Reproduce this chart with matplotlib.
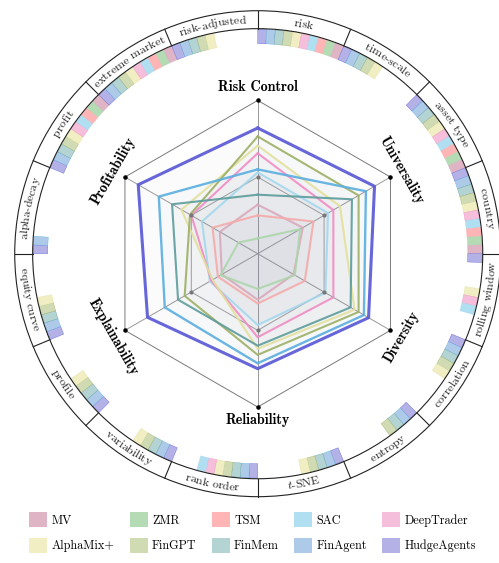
import numpy as np
import matplotlib
matplotlib.use('Agg')
import matplotlib.pyplot as plt
from matplotlib.patches import Wedge, Circle, Patch
from matplotlib.font_manager import FontProperties, findfont
from matplotlib.ft2font import FT2Font

plt.rcParams['font.family'] = ['cmr10', 'DejaVu Serif']
plt.rcParams['mathtext.fontset'] = 'cm'
plt.rcParams['axes.unicode_minus'] = False

# ========== data ==========
methods = ['HudgeAgents', 'FinAgent', 'FinMem', 'FinGPT', 'AlphaMix+',
           'DeepTrader', 'SAC', 'TSM', 'ZMR', 'MV']
line_colors = ['#5656d6', '#5aaee0', '#5c9c9c', '#9db065', '#e3e09c',
               '#f08cc4', '#a3d8ee', '#f5aaaa', '#acd6ac', '#d9a9bb']
light_colors = ['#b3b1e6', '#aecae9', '#b4d3d3', '#d0dbb4', '#f1eec4',
                '#f5bedb', '#b1dff2', '#ffb5b5', '#b4dbb4', '#dfb4c4']

axis_names = ['Risk Control', 'Universality', 'Diversity',
              'Reliability', 'Explainability', 'Profitability']
axis_angles = [90, 30, -30, -90, -150, 150]

# scores per method (same order as axis_names)
hudgeagents = [0.82, 0.88, 0.835, 0.75, 0.83, 0.90]
finagent    = [0.55, 0.815, 0.80, 0.715, 0.70, 0.745]
finmem      = [0.385, 0.71, 0.70, 0.60, 0.60, 0.645]
fingpt      = [0.765, 0.76, 0.76, 0.66, 0.55, 0.51]
alphamix    = [0.705, 0.62, 0.73, 0.62, 0.34, 0.575]
deeptrader  = [0.655, 0.57, 0.57, 0.545, 0.35, 0.50]
sac         = [0.53, 0.53, 0.51, 0.465, 0.36, 0.42]
tsm         = [0.25, 0.42, 0.355, 0.325, 0.30, 0.34]
zmr         = [0.10, 0.32, 0.28, 0.23, 0.28, 0.145]
mv          = [0.32, 0.34, 0.27, 0.30, 0.27, 0.285]
scores = [hudgeagents, finagent, finmem, fingpt, alphamix,
          deeptrader, sac, tsm, zmr, mv]

# outer ring: evaluation aspects (clockwise from top)
segments = ['risk', 'time-scale', 'asset type', 'country', 'rolling window',
            'correlation', 'entropy', 't-SNE', 'rank order', 'variability',
            'profile', 'equity curve', 'alpha-decay', 'profit',
            'extreme market', 'risk-adjusted']
# which methods cover each aspect (method order as above)
coverage = [
    [1, 1, 1, 1, 1, 1, 1, 1, 1, 1],
    [1, 1, 1, 1, 1, 0, 0, 0, 0, 0],
    [1, 1, 1, 1, 1, 1, 1, 1, 1, 1],
    [1, 1, 1, 1, 1, 1, 1, 1, 1, 1],
    [1, 0, 0, 0, 1, 1, 1, 0, 0, 0],
    [1, 1, 1, 1, 1, 0, 0, 0, 0, 0],
    [1, 1, 1, 1, 0, 0, 0, 0, 0, 0],
    [1, 1, 1, 1, 1, 0, 0, 0, 0, 0],
    [1, 1, 1, 1, 1, 1, 1, 0, 0, 0],
    [1, 1, 1, 1, 1, 0, 0, 0, 0, 0],
    [1, 1, 1, 1, 1, 0, 0, 0, 0, 0],
    [1, 1, 1, 1, 1, 0, 0, 0, 0, 0],
    [1, 1, 0, 0, 0, 0, 0, 0, 0, 0],
    [1, 1, 1, 1, 1, 1, 1, 1, 1, 1],
    [1, 1, 1, 1, 1, 1, 1, 1, 1, 1],
    [1, 1, 1, 1, 1, 0, 0, 0, 0, 0],
]

legend_order = ['MV', 'AlphaMix+', 'ZMR', 'FinGPT', 'TSM', 'FinMem',
                'SAC', 'FinAgent', 'DeepTrader', 'HudgeAgents']

# ========== figure ==========
W, H = 499, 563
cx, cy, scale = 257.7, 253.7, 153.3   # centre in px, px per unit
fig = plt.figure(figsize=(W / 100, H / 100), dpi=100)
ax = fig.add_axes([0, 0, 1, 1])
ax.set_xlim(-cx / scale, (W - cx) / scale)
ax.set_ylim(-(H - cy) / scale, cy / scale)
ax.axis('off')

ang = np.deg2rad(axis_angles)
ca, sa = np.cos(ang), np.sin(ang)

# grid
for lev, col in [(1.0, '#7a7a7a'), (0.5, '#a0a0a0')]:
    ax.plot(np.append(lev * ca, lev * ca[0]), np.append(lev * sa, lev * sa[0]),
            color=col, lw=0.7, zorder=1)
for c, s in zip(ca, sa):
    ax.plot([0, c], [0, s], color='#9a9a9a', lw=0.7, zorder=1)
ax.scatter(ca, sa, s=5, color='black', zorder=5)
ax.scatter(0.5 * ca, 0.5 * sa, s=4, color='#777777', zorder=5)

# series
for i in range(len(methods) - 1, -1, -1):
    v = np.array(scores[i])
    xs, ys = v * ca, v * sa
    ax.fill(xs, ys, color='#8a90a8', alpha=0.028, lw=0, zorder=2)
    lw = 2.2 if i == 0 else (1.7 if i == 1 else 1.5)
    ax.plot(np.append(xs, xs[0]), np.append(ys, ys[0]), color=line_colors[i],
            lw=lw, alpha=0.9, zorder=3 + (10 - i) * 0.01)

# axis labels
for name, a in zip(axis_names, axis_angles):
    r = 1.085
    rad = np.deg2rad(a)
    if a in (90, -90):
        rot = 0
    elif a in (30, -150):
        rot = -60
    else:
        rot = 60
    ax.text(r * np.cos(rad), r * np.sin(rad), name, fontfamily='cmb10',
            fontsize=10.2, rotation=rot, ha='center', va='center', zorder=6)

# ring
r_in, r_out = 1.468, 1.585
bar_in = 1.37
ax.add_patch(Circle((0, 0), r_out, fill=False, lw=0.8, color='#222222', zorder=4))
ax.add_patch(Circle((0, 0), r_in, fill=False, lw=0.8, color='#222222', zorder=4))
seg_w = 360 / len(segments)
slot_w = seg_w / len(methods)
for k, seg in enumerate(segments):
    a0 = 90 - seg_w * k
    rad = np.deg2rad(a0)
    ax.plot([r_in * np.cos(rad), r_out * np.cos(rad)],
            [r_in * np.sin(rad), r_out * np.sin(rad)], color='#222222', lw=0.8, zorder=4)
    for j, has in enumerate(coverage[k]):
        if has:
            ax.add_patch(Wedge((0, 0), r_in - 0.004, a0 - slot_w * (j + 1), a0 - slot_w * j,
                               width=r_in - 0.004 - bar_in, facecolor=light_colors[j],
                               edgecolor=line_colors[j], lw=0.25, zorder=3))

# curved ring labels
lab_size = 8.6
font_cache = {}


def advance(ch, fam):
    if ch == ' ':
        return 0.333 * lab_size
    if fam not in font_cache:
        f = FT2Font(findfont(FontProperties(family=fam)))
        f.set_size(lab_size, 72)
        font_cache[fam] = f
    g = font_cache[fam].load_char(ord(ch))
    return g.linearHoriAdvance / 65536.0


pt2unit = (100 / 72) / scale
for k, seg in enumerate(segments):
    if seg == 't-SNE':
        chars = [('t', 'cmmi10')] + [(c, 'cmr10') for c in '-SNE']
    else:
        chars = [(c, 'cmr10') for c in seg]
    advs = [advance(c, f) * pt2unit for c, f in chars]
    total = sum(advs)
    mid = 90 - seg_w * (k + 0.5)
    upper = 0 < ((mid + 360) % 360) < 180
    rb = 1.505 if upper else 1.550
    span = np.rad2deg(total / rb)
    cum = 0
    for (c, f), adv in zip(chars, advs):
        off = np.rad2deg((cum + adv / 2) / rb)
        if upper:
            a = mid + span / 2 - off
            rot = a - 90
        else:
            a = mid - span / 2 + off
            rot = a + 90
        cum += adv
        if c == ' ':
            continue
        rad = np.deg2rad(a)
        txt = r'$t$' if f == 'cmmi10' else c
        ax.text(rb * np.cos(rad), rb * np.sin(rad), txt, fontfamily=f,
                fontsize=lab_size, rotation=rot, rotation_mode='anchor',
                ha='center', va='baseline', color='#222222', zorder=6)

# legend
handles = [Patch(facecolor=light_colors[methods.index(m)], edgecolor='none')
           for m in legend_order]
fig.legend(handles, legend_order, ncol=5, loc='upper left',
           bbox_to_anchor=(29 / W, 1 - 512 / H), frameon=False, fontsize=8.8,
           handlelength=1.48, handleheight=1.52, handletextpad=0.35,
           columnspacing=1.25, labelspacing=0.87, borderpad=0, borderaxespad=0)

fig.savefig('out.png', dpi=100)
